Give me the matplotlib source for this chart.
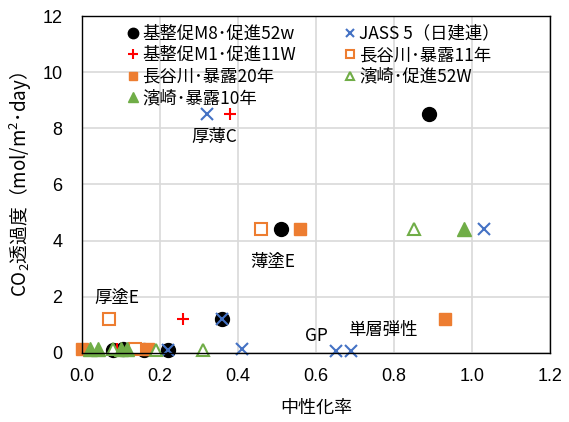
import matplotlib.pyplot as plt

plt.rcParams['font.family'] = ['Noto Sans CJK JP', 'DejaVu Sans']
plt.rcParams['mathtext.fontset'] = 'custom'
plt.rcParams['mathtext.rm'] = 'Noto Sans CJK JP'

# 基整促M8・促進52w
m8_x = [0.89, 0.51, 0.36, 0.08, 0.105, 0.16, 0.22]
m8_y = [8.5, 4.4, 1.2, 0.1, 0.15, 0.1, 0.1]
# JASS 5（日建連）
jass_x = [0.32, 1.03, 0.36, 0.41, 0.65, 0.69, 0.22]
jass_y = [8.5, 4.4, 1.2, 0.15, 0.05, 0.05, 0.1]
# 基整促M1・促進11W
m1_x = [0.38, 0.26, 0.09, 0.13]
m1_y = [8.5, 1.2, 0.12, 0.15]
# 長谷川・暴露11年
h11_x = [0.46, 0.07, 0.135]
h11_y = [4.4, 1.2, 0.15]
# 長谷川・暴露20年
h20_x = [0.56, 0.93, 0.0, 0.17]
h20_y = [4.4, 1.2, 0.12, 0.12]
# 濱崎・促進52W
hp_x = [0.85, 0.31, 0.08, 0.19]
hp_y = [4.4, 0.1, 0.12, 0.1]
# 濱崎・暴露10年
he_x = [0.98, 0.02, 0.04, 0.10, 0.115]
he_y = [4.4, 0.12, 0.12, 0.12, 0.12]

notes = ['厚薄C', '薄塗E', '厚塗E', 'GP', '単層弾性']
note_x = [0.34, 0.49, 0.09, 0.60, 0.77]
note_y = [7.7, 3.25, 1.95, 0.6, 0.82]

blue = '#4472C4'
orange = '#ED7D31'
green = '#70AD47'

fig = plt.figure(figsize=(5.69, 4.22), dpi=100)
ax = fig.add_axes([0.144, 0.164, 0.823, 0.798])

h_m8, = ax.plot(m8_x, m8_y, 'o', color='black', ms=10, ls='none', clip_on=False,
                label='基整促M8･促進52w')
h_jass, = ax.plot(jass_x, jass_y, 'x', color=blue, ms=8, mew=1.5, ls='none', clip_on=False,
                  label='JASS 5（日建連）')
h_m1, = ax.plot(m1_x, m1_y, '+', color='red', ms=9, mew=1.5, ls='none', clip_on=False,
                label='基整促M1･促進11W')
h_h11, = ax.plot(h11_x, h11_y, 's', mfc='white', mec=orange, mew=1.5, ms=8, ls='none',
                 clip_on=False, label='長谷川･暴露11年')
h_h20, = ax.plot(h20_x, h20_y, 's', color=orange, ms=8.5, ls='none', clip_on=False,
                 label='長谷川･暴露20年')
h_hp, = ax.plot(hp_x, hp_y, '^', mfc='white', mec=green, mew=1.5, ms=8.5, ls='none',
                clip_on=False, label='濱崎･促進52W')
h_he, = ax.plot(he_x, he_y, '^', color=green, ms=9.5, ls='none', clip_on=False,
                label='濱崎･暴露10年')

for t, x, y in zip(notes, note_x, note_y):
    ax.text(x, y, t, ha='center', va='center', fontsize=12.5)

ax.set_xlim(0, 1.2)
ax.set_ylim(0, 12)
ax.set_xticks([0.0, 0.2, 0.4, 0.6, 0.8, 1.0, 1.2])
ax.set_yticks(range(0, 13, 2))
ax.set_xticklabels(['0.0', '0.2', '0.4', '0.6', '0.8', '1.0', '1.2'])
for lab in ax.get_xticklabels() + ax.get_yticklabels():
    lab.set_family(['Liberation Sans', 'DejaVu Sans'])
ax.tick_params(labelsize=13, length=0)
ax.tick_params(axis='x', pad=11)
ax.tick_params(axis='y', pad=14)
ax.grid(color='#d9d9d9', lw=1.2)
ax.set_axisbelow(True)
for s in ax.spines.values():
    s.set_color('black')
    s.set_linewidth(1)

ax.set_xlabel('中性化率', fontsize=13, labelpad=10)
ax.set_ylabel('CO$_2$透過度（mol/m$^2$･day）', fontsize=13.5, labelpad=6)

handles = [h_m8, h_m1, h_h20, h_he, h_jass, h_h11, h_hp]
ax.legend(handles=handles, ncol=2, loc='upper left', bbox_to_anchor=(0.075, 0.995),
          frameon=False, fontsize=12.5, handletextpad=0.05, columnspacing=2.6,
          labelspacing=0.2, handlelength=1.0, markerscale=0.75, borderaxespad=0)

fig.savefig('out.png', dpi=100)
